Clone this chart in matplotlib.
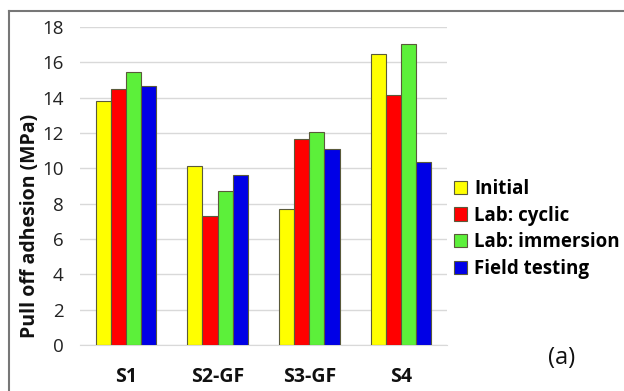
import matplotlib
matplotlib.use("Agg")
import matplotlib.pyplot as plt
from matplotlib.patches import Patch
from matplotlib.lines import Line2D
import numpy as np

plt.rcParams['font.family'] = ['Open Sans', 'DejaVu Sans']

categories = ["S1", "S2-GF", "S3-GF", "S4"]
series_names = ["Initial", "Lab: cyclic", "Lab: immersion", "Field testing"]
initial = [13.8, 10.15, 7.7, 16.5]
lab_cyclic = [14.5, 7.3, 11.65, 14.15]
lab_immersion = [15.45, 8.7, 12.05, 17.05]
field_testing = [14.65, 9.65, 11.1, 10.35]
yticks = [0, 2, 4, 6, 8, 10, 12, 14, 16, 18]

colors = ["#FFFF00", "#FF0000", "#5CF03A", "#0000E6"]
edge = "#5a5a3a"

fig = plt.figure(figsize=(6.24, 3.91), dpi=100)
ax = fig.add_axes([0.1282, 0.1176, 0.5881, 0.8133])

x = np.arange(len(categories))
w = 0.165
all_series = [initial, lab_cyclic, lab_immersion, field_testing]
for i, (vals, c, name) in enumerate(zip(all_series, colors, series_names)):
    ax.bar(x + (i - 1.5) * w, vals, width=w, color=c, edgecolor=edge,
           linewidth=0.8, label=name, zorder=3)

ax.set_ylim(0, 18)
ax.set_xlim(-0.5, 3.5)
ax.set_yticks(yticks)
ax.set_yticklabels([str(t) for t in yticks], fontsize=13.5, color="#222222")
ax.set_xticks(x)
ax.set_xticklabels(categories, fontsize=14, fontweight="bold", color="#111111")
ax.tick_params(axis='y', length=0, pad=12)
ax.tick_params(axis='x', length=0, pad=16)
ax.grid(axis='y', color="#d9d9d9", linewidth=1, zorder=0)
for s in ax.spines.values():
    s.set_visible(False)
ax.spines['bottom'].set_visible(True)
ax.spines['bottom'].set_color("#d9d9d9")

ax.set_ylabel("Pull off adhesion (MPa)", fontsize=14, fontweight="bold", color="#111111")
ax.yaxis.set_label_coords(-0.11, 0.374)

handles = [Patch(facecolor=c, edgecolor=edge, linewidth=0.8) for c in colors]
leg = fig.legend(handles, series_names, loc="upper left",
                 bbox_to_anchor=(0.715, 0.562), frameon=False,
                 prop={'size': 13.5, 'weight': 'bold'},
                 handlelength=0.7, handleheight=0.7, handletextpad=0.4,
                 labelspacing=0.36, borderaxespad=0)

fig.text(548/624, 1 - 358/391, "(a)", fontsize=17, color="#111111", ha="left", va="center")

# outer frame
fig.add_artist(Line2D([9/624, 1.0], [1 - 11/391, 1 - 11/391], transform=fig.transFigure,
                      color="#777777", linewidth=1.5))
fig.add_artist(Line2D([9/624, 9/624], [0, 1 - 11/391], transform=fig.transFigure,
                      color="#777777", linewidth=1.5))

fig.savefig("out.png", dpi=100)
